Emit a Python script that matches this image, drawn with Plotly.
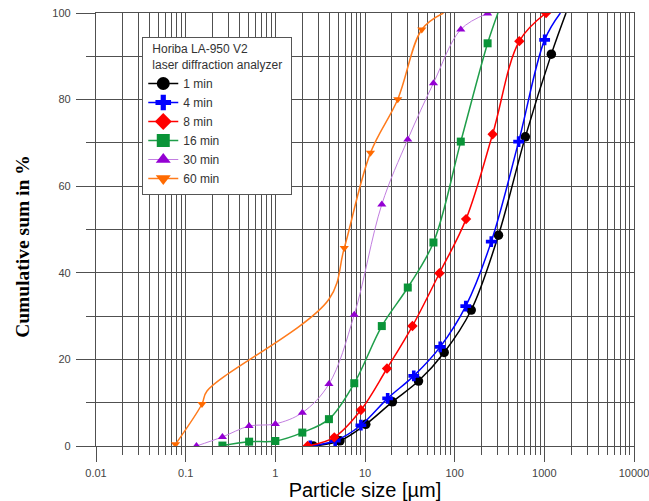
import plotly.graph_objects as go

# ---- data (particle size in µm, cumulative %) ----
black_x = [2.65, 5.26, 10.2, 20.2, 39.5, 76.4, 153, 308, 614, 1197, 1745]
black_y = [0, 1.2, 5.0, 10.2, 15.0, 21.6, 31.4, 48.7, 71.4, 90.5, 100]
black_marked = [0, 1, 2, 3, 4, 5, 6, 7, 8, 9]

blue_x = [2.45, 4.65, 9.0, 17.9, 35, 69, 133, 256, 517, 1008, 1510]
blue_y = [0, 1.2, 4.8, 11.0, 16.2, 22.9, 32.3, 47.2, 70.3, 93.8, 100]
blue_marked = [0, 1, 2, 3, 4, 5, 6, 7, 8, 9]

red_x = [2.29, 4.54, 9.0, 17.6, 33.8, 67.6, 134, 265, 526, 1045]
red_y = [0, 2.0, 8.3, 17.9, 27.7, 39.9, 52.4, 72.0, 93.5, 100]
red_marked = [0, 1, 2, 3, 4, 5, 6, 7, 8, 9]

green_x = [0.257, 0.51, 1.0, 2.0, 3.96, 7.59, 15.4, 30.0, 58, 117, 233, 304]
green_y = [0.1, 1.0, 1.15, 3.1, 6.2, 14.5, 27.7, 36.6, 47.0, 70.3, 93.0, 100]
green_marked = [0, 1, 2, 3, 4, 5, 6, 7, 8, 9, 10]

purple_x = [0.132, 0.257, 0.51, 1.0, 2.0, 3.96, 7.59, 15.4, 30, 58, 117, 233]
purple_y = [0, 2.1, 4.6, 5.1, 7.7, 14.3, 30.3, 55.8, 70.8, 83.8, 96.2, 99.9]
purple_marked = [0, 1, 2, 3, 4, 5, 6, 7, 8, 9, 10, 11]

orange_x = [0.077, 0.152, 0.173, 3.96, 5.87, 11.5, 23.2, 43, 75]
orange_y = [0.4, 9.7, 12.7, 33.9, 45.7, 67.7, 80.1, 96.2, 100]
orange_marked = [0, 1, 4, 5, 6, 7]

series_names = ["1 min", "4 min", "8 min", "16 min", "30 min", "60 min"]

x_tick_vals = [0.01, 0.1, 1, 10, 100, 1000, 10000]
x_tick_text = ["0.01", "0.1", "1", "10", "100", "1000", "10000"]

legend_title = "&nbsp;&nbsp;Horiba LA-950 V2&nbsp;&nbsp;<br>&nbsp;&nbsp;laser diffraction analyzer&nbsp;&nbsp;"
y_title = "<b>Cumulative sum in %</b>"
x_title = "Particle size [µm]"

# ---- styles ----
styles = [
    dict(line="#000000", marker="#000000", symbol="circle", size=9.5, lw=1.5),
    dict(line="#0000ff", marker="#0000ff", symbol="cross", size=9, lw=1.5),
    dict(line="#ff0000", marker="#ff0000", symbol="diamond", size=8, lw=1.5),
    dict(line="#1f9e4a", marker="#0a9438", symbol="square", size=8, lw=1.5),
    dict(line="#c27ee0", marker="#9400d3", symbol="triangle-up", size=8, lw=1.0),
    dict(line="#ff7b1c", marker="#ff6a00", symbol="triangle-down", size=8, lw=1.5),
]
data = [
    (black_x, black_y, black_marked),
    (blue_x, blue_y, blue_marked),
    (red_x, red_y, red_marked),
    (green_x, green_y, green_marked),
    (purple_x, purple_y, purple_marked),
    (orange_x, orange_y, orange_marked),
]

fig = go.Figure()
for name, (xs, ys, marked), st in zip(series_names, data, styles):
    fig.add_trace(go.Scatter(
        x=xs, y=ys, mode="lines", line=dict(color=st["line"], width=st["lw"], shape="spline", smoothing=1.0),
        showlegend=False, hoverinfo="skip", legendgroup=name))
    fig.add_trace(go.Scatter(
        x=[xs[i] for i in marked], y=[ys[i] for i in marked], mode="markers",
        marker=dict(color=st["marker"], symbol=st["symbol"], size=st["size"]),
        showlegend=False, legendgroup=name, name=name))
# legend entries
for name, st in zip(series_names, styles):
    fig.add_trace(go.Scatter(
        x=[None], y=[None], mode="lines+markers", name=name, legendgroup=name,
        line=dict(color=st["line"], width=st["lw"]),
        marker=dict(color=st["marker"], symbol=st["symbol"], size=13)))

grid = "#505050"
fig.update_layout(
    width=649, height=501,
    margin=dict(l=96, r=15, t=13, b=55),
    plot_bgcolor="white", paper_bgcolor="white",
    font=dict(family="Liberation Sans, Arial, sans-serif", size=11, color="#444444"),
    legend=dict(
        x=0.086, y=0.945, xanchor="left", yanchor="top",
        bgcolor="white", bordercolor="#555555", borderwidth=1,
        font=dict(size=12, color="#333333"),
        title=dict(text=legend_title, side="top center", font=dict(size=12, color="#333333")),
        itemwidth=30, tracegroupgap=0,
    ),
    annotations=[dict(
        text=y_title, textangle=-90, showarrow=False,
        xref="paper", yref="paper", x=0, y=0.46, xshift=-73,
        xanchor="center", yanchor="middle",
        font=dict(family="Liberation Serif, Times New Roman, serif", size=19.5, color="#000000"),
    )],
)
fig.update_xaxes(
    type="log", range=[-2, 4], automargin=False,
    tickmode="array", tickvals=x_tick_vals, ticktext=x_tick_text,
    ticklabeloverflow="allow", ticklabelstandoff=2,
    showgrid=True, gridcolor=grid, gridwidth=1.2,
    ticks="outside", ticklen=15, tickcolor=grid, tickwidth=1.2,
    showline=True, linecolor=grid, linewidth=1.2, mirror=True, zeroline=False,
    minor=dict(dtick="D1", showgrid=True, gridcolor=grid, gridwidth=1.2,
               ticks="outside", ticklen=8, tickcolor=grid, tickwidth=1.2),
    tickfont=dict(size=11, color="#444444"),
    title=dict(text=x_title, font=dict(size=20, color="#000000"), standoff=2),
)
fig.update_yaxes(
    range=[0, 100], dtick=20, tick0=0, automargin=False,
    ticklabelstandoff=3,
    showgrid=True, gridcolor=grid, gridwidth=1.2,
    ticks="outside", ticklen=19, tickcolor=grid, tickwidth=1.2,
    showline=True, linecolor=grid, linewidth=1.2, mirror=True, zeroline=False,
    minor=dict(dtick=10, showgrid=True, gridcolor=grid, gridwidth=1.2,
               ticks="outside", ticklen=9, tickcolor=grid, tickwidth=1.2),
    tickfont=dict(size=11, color="#444444"),
)

fig.write_html("out.html", config={"displayModeBar": False},
               post_script="document.body.style.margin='0';document.body.style.overflow='hidden';")
